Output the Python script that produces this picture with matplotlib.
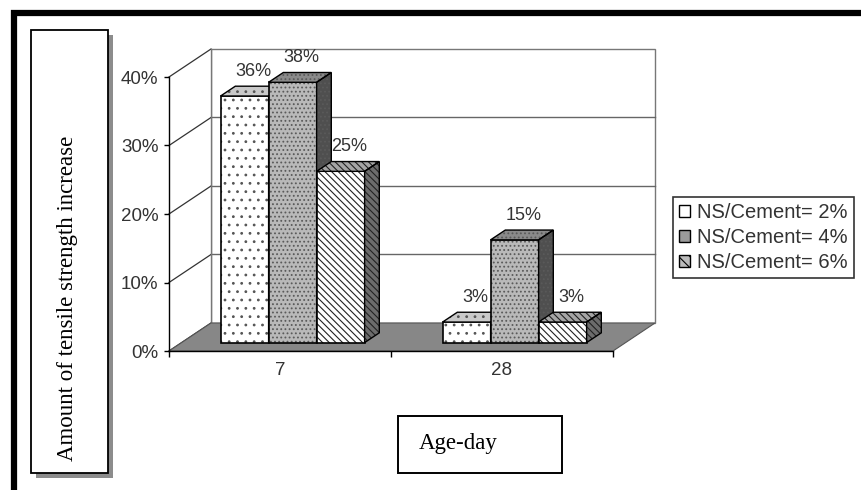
import matplotlib
matplotlib.use("Agg")
import matplotlib.pyplot as plt
from matplotlib.patches import Rectangle, Polygon, Patch

plt.rcParams['font.family'] = ['Liberation Sans', 'DejaVu Sans']
plt.rcParams['hatch.linewidth'] = 0.8

# ---- data ----
categories = ["7", "28"]
series_labels = ["NS/Cement= 2%", "NS/Cement= 4%", "NS/Cement= 6%"]
values_2pct = [36, 3]
values_4pct = [38, 15]
values_6pct = [25, 3]
series_values = [values_2pct, values_4pct, values_6pct]
y_ticks = [0, 10, 20, 30, 40]
y_tick_labels = ["0%", "10%", "20%", "30%", "40%"]
y_axis_title = "Amount of tensile strength increase"
x_axis_title = "Age-day"

# ---- styles ----
front_colors = ["white", "#b9b9b9", "white"]
top_colors = ["#c9c9c9", "#8a8a8a", "#a5a5a5"]
side_colors = ["#8a8a8a", "#4f4f4f", "#6c6c6c"]
hatches = ["..", "....", "\\\\\\\\\\"]
hatch_colors = ["#555555", "#5a5a5a", "#222222"]

W_PX, H_PX = 862, 490
fig = plt.figure(figsize=(W_PX / 100, H_PX / 100), dpi=100)
fig.patch.set_facecolor("white")


def fx(px):
    return px / W_PX


def fy(py):
    return 1 - py / H_PX


# main axes: front plane of the 3D chart
ax_l, ax_r, ax_b, ax_t = 169, 613, 351, 77
ax = fig.add_axes([fx(ax_l), fy(ax_b), fx(ax_r - ax_l), (ax_b - ax_t) / H_PX])
ax.set_xlim(0, len(categories))
ax.set_ylim(0, 40)
ax.patch.set_alpha(0)

# depth of the box in data units
px_per_x = (ax_r - ax_l) / len(categories)
px_per_y = (ax_b - ax_t) / 40
DX = 42 / px_per_x
DY = 28 / px_per_y
ymax = 40
nx = len(categories)

# back wall
ax.add_patch(Polygon([(DX, DY), (nx + DX, DY), (nx + DX, ymax + DY), (DX, ymax + DY)],
                     closed=True, facecolor="white", edgecolor="#777777", lw=1.0,
                     clip_on=False, zorder=0.5))
for v in y_ticks[1:-1]:
    ax.plot([DX, nx + DX], [v + DY, v + DY], color="#666666", lw=1.0,
            clip_on=False, zorder=0.6)
# left wall
ax.add_patch(Polygon([(0, 0), (DX, DY), (DX, ymax + DY), (0, ymax)], closed=True,
                     facecolor="white", edgecolor="none", clip_on=False, zorder=0.55))
for v in y_ticks:
    ax.plot([0, DX], [v, v + DY], color="#333333", lw=0.9, clip_on=False, zorder=0.7)
ax.plot([DX, DX], [DY, ymax + DY], color="#777777", lw=1.0, clip_on=False, zorder=0.7)
# floor
ax.add_patch(Polygon([(0, 0), (nx, 0), (nx + DX, DY), (DX, DY)], closed=True,
                     facecolor="#878787", edgecolor="#555555", lw=0.8,
                     clip_on=False, zorder=0.8))

# bars
f0, f1 = 0.3, 0.65
bw = 48 / px_per_x
ox0, oy0 = f0 * DX, f0 * DY
ddx, ddy = (f1 - f0) * DX, (f1 - f0) * DY
z = 2
for g in range(nx):
    for s, vals in enumerate(series_values):
        v = vals[g]
        xl = g + 0.5 - 1.5 * bw + s * bw + ox0
        bot = oy0
        top = bot + v
        ax.bar([xl], [v], bottom=bot, width=bw, align="edge", color=front_colors[s],
               edgecolor=hatch_colors[s], hatch=hatches[s], linewidth=0, zorder=z)
        ax.bar([xl], [v], bottom=bot, width=bw, align="edge", fill=False,
               edgecolor="black", linewidth=1.2, zorder=z + 0.05)
        # top face
        ax.add_patch(Polygon([(xl, top), (xl + bw, top), (xl + bw + ddx, top + ddy),
                              (xl + ddx, top + ddy)], closed=True,
                             facecolor=top_colors[s], edgecolor=hatch_colors[s],
                             hatch=hatches[s], lw=0, clip_on=False, zorder=z + 0.1))
        ax.add_patch(Polygon([(xl, top), (xl + bw, top), (xl + bw + ddx, top + ddy),
                              (xl + ddx, top + ddy)], closed=True, fill=False,
                             edgecolor="black", lw=1.0, clip_on=False, zorder=z + 0.15))
        # side face
        side = [(xl + bw, bot), (xl + bw + ddx, bot + ddy), (xl + bw + ddx, top + ddy),
                (xl + bw, top)]
        ax.add_patch(Polygon(side, closed=True, facecolor=side_colors[s],
                             edgecolor=hatch_colors[s],
                             hatch=hatches[s] if s != 0 else None, lw=0,
                             clip_on=False, zorder=z + 0.1))
        ax.add_patch(Polygon(side, closed=True, fill=False, edgecolor="black", lw=1.0,
                             clip_on=False, zorder=z + 0.15))
        # data label
        ax.text(xl + bw / 2 + ddx * 0.6, top + 3.6, f"{v}%", ha="center", va="center",
                fontsize=13, color="#333333", clip_on=False, zorder=10)
        z += 1

# axes spines and ticks
for sp in ["top", "right"]:
    ax.spines[sp].set_visible(False)
ax.spines["left"].set_color("black")
ax.spines["bottom"].set_color("black")
ax.spines["left"].set_linewidth(1.0)
ax.spines["bottom"].set_linewidth(1.0)
ax.set_yticks(y_ticks)
ax.set_yticklabels(y_tick_labels)
ax.tick_params(axis="y", length=3.5, width=1.0, pad=4, labelsize=13.5,
               labelcolor="#333333", color="black")
ax.set_xticks([i + 0.5 for i in range(nx)])
ax.set_xticklabels(categories)
ax.set_xticks(list(range(nx + 1)), minor=True)
ax.tick_params(axis="x", which="major", length=0, pad=8, labelsize=13.5,
               labelcolor="#333333")
ax.tick_params(axis="x", which="minor", length=4, width=1.0, color="black")

# legend
handles = [Patch(facecolor="white", edgecolor="black", lw=1.0),
           Patch(facecolor="#9a9a9a", edgecolor="black", lw=1.0),
           Patch(facecolor="#bbbbbb", edgecolor="black", hatch="\\\\\\", lw=1.0)]
leg = fig.legend(handles, series_labels, loc="upper left",
                 bbox_to_anchor=(fx(673), fy(197)), frameon=True, fancybox=False,
                 edgecolor="black", fontsize=14.5, handlelength=0.55, handleheight=0.55,
                 handletextpad=0.35, labelspacing=0.3, borderpad=0.3,
                 borderaxespad=0)
leg.get_frame().set_linewidth(1.2)
for t in leg.get_texts():
    t.set_color("#333333")

# y-axis title box with shadow
fig.add_artist(Rectangle((fx(36), fy(478)), fx(77), (478 - 35) / H_PX,
                         transform=fig.transFigure, facecolor="#8c8c8c",
                         edgecolor="none", zorder=1))
fig.add_artist(Rectangle((fx(31), fy(473)), fx(77), (473 - 30) / H_PX,
                         transform=fig.transFigure, facecolor="white",
                         edgecolor="black", lw=1.3, zorder=2))
fig.text(fx(68), fy(298), y_axis_title, rotation=90, ha="center", va="center",
         fontsize=16.5, family="Liberation Serif", color="black", zorder=3)

# x-axis title box
fig.add_artist(Rectangle((fx(398), fy(473)), fx(164), (473 - 416) / H_PX,
                         transform=fig.transFigure, facecolor="white",
                         edgecolor="black", lw=1.4, zorder=2))
fig.text(fx(419), fy(443), x_axis_title, ha="left", va="center", fontsize=16.5,
         family="Liberation Serif", color="black", zorder=3)

# outer thick frame (cut off at right and bottom)
fig.add_artist(Rectangle((fx(14.5), fy(600)), fx(900), (600 - 13.5) / H_PX,
                         transform=fig.transFigure, fill=False, edgecolor="black",
                         lw=4.5, zorder=5))

fig.savefig("out.png", dpi=100)
